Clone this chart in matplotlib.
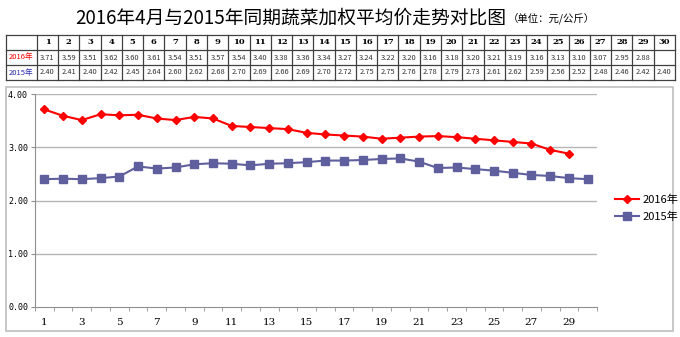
import matplotlib
matplotlib.use('Agg')
import matplotlib.pyplot as plt
from matplotlib.patches import Rectangle

plt.rcParams['font.family'] = ['Noto Sans CJK SC', 'DejaVu Sans']

days = list(range(1, 31))
price_2016 = [3.71, 3.59, 3.51, 3.62, 3.60, 3.61, 3.54, 3.51, 3.57, 3.54,
              3.40, 3.38, 3.36, 3.34, 3.27, 3.24, 3.22, 3.20, 3.16, 3.18,
              3.20, 3.21, 3.19, 3.16, 3.13, 3.10, 3.07, 2.95, 2.88]
price_2015 = [2.40, 2.41, 2.40, 2.42, 2.45, 2.64, 2.60, 2.62, 2.68, 2.70,
              2.69, 2.66, 2.69, 2.70, 2.72, 2.75, 2.75, 2.76, 2.78, 2.79,
              2.73, 2.61, 2.62, 2.59, 2.56, 2.52, 2.48, 2.46, 2.42, 2.40]
series_names = ['2016年', '2015年']
title = '2016年4月与2015年同期蔬菜加权平均价走势对比图'
unit = '（单位：元/公斤）'

W, H = 680, 337
red = '#FF0000'
blue = '#5F5F9E'
name_colors = [red, '#2B2BB0']

fig = plt.figure(figsize=(W / 100, H / 100), dpi=100)


def box(l, t, r, b):
    # pixel box -> figure fraction [left, bottom, width, height]
    return [l / W, 1 - b / H, (r - l) / W, (b - t) / H]


# title
fig.text(75 / W, 1 - 18 / H, title, fontsize=13.5, ha='left', va='center')
fig.text(508 / W, 1 - 19 / H, unit, fontsize=7.5, ha='left', va='center')

# data table on top
tab = fig.add_axes(box(6, 35, 675, 80))
first_w = 1.45
tab.set_xlim(0, first_w + 30)
tab.set_ylim(3, 0)
tab.axis('off')
for r in range(4):
    tab.plot([0, first_w + 30], [r, r], color='#404040', lw=0.9, clip_on=False)
for c in range(32):
    xx = 0 if c == 0 else first_w + c - 1
    tab.plot([xx, xx], [0, 3], color='#404040', lw=0.9, clip_on=False)
for i, d in enumerate(days):
    cx = first_w + i + 0.5
    tab.text(cx, 0.5, str(d), ha='center', va='center', fontsize=6,
             fontweight='bold', family='DejaVu Serif')
    if i < len(price_2016):
        tab.text(cx, 1.5, '%.2f' % price_2016[i], ha='center', va='center',
                 fontsize=5.4, color='#333333')
    tab.text(cx, 2.5, '%.2f' % price_2015[i], ha='center', va='center',
             fontsize=5.4, color='#333333')
for k, nm in enumerate(series_names):
    tab.text(first_w / 2, 1.5 + k, nm, ha='center', va='center',
             fontsize=5.5, color=name_colors[k])

# outer chart frame
fig.patches.append(Rectangle((6 / W, 1 - 331 / H), 667 / W, 244 / H,
                             transform=fig.transFigure, fill=False,
                             edgecolor='#BFBFBF', lw=1.2))

ax = fig.add_axes(box(35, 94, 597, 307))
ax.plot(days[:len(price_2016)], price_2016, color=red, lw=1.5, marker='D',
        ms=3.8, label=series_names[0])
ax.plot(days, price_2015, color=blue, lw=1.5, marker='s', ms=5.2,
        label=series_names[1])
ax.set_xlim(0.5, 30.5)
ax.set_ylim(0, 4)
ax.set_yticks([0, 1, 2, 3, 4])
ax.set_yticklabels(['%.2f' % v for v in [0, 1, 2, 3, 4]], fontsize=6,
                   family='DejaVu Sans Mono')
ax.set_xticks(days[::2])
ax.set_xticklabels([str(d) for d in days[::2]], fontsize=7.5,
                   family='DejaVu Serif')
ax.set_xticks([d + 0.5 for d in range(0, 31)], minor=True)
ax.tick_params(axis='x', which='major', length=0, pad=8)
ax.tick_params(axis='x', which='minor', length=3, color='#909090')
ax.tick_params(axis='y', length=3, color='#909090', pad=2)
for v in [1, 2, 3, 4]:
    ax.axhline(v, color='#B5B5B5', lw=1, zorder=0)
for s in ['top', 'right']:
    ax.spines[s].set_visible(False)
for s in ['left', 'bottom']:
    ax.spines[s].set_color('#909090')

fig.legend(loc='center left', bbox_to_anchor=(605 / W, 1 - 208 / H),
           frameon=False, fontsize=8, handlelength=2.2, labelspacing=0.6,
           handletextpad=0.3)

fig.savefig('out.png', dpi=100)
